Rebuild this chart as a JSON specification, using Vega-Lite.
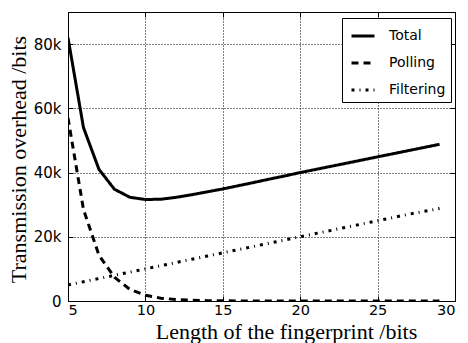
{
  "$schema": "https://vega.github.io/schema/vega-lite/v6.json",
  "width": 387,
  "height": 289,
  "autosize": "none",
  "padding": {"left": 68, "top": 12, "right": 13, "bottom": 42},
  "background": "white",
  "data": {"values": [
    {"n":5,"series":"Total","value":82000},{"n":6,"series":"Total","value":54000},{"n":7,"series":"Total","value":41000},{"n":8,"series":"Total","value":34800},{"n":9,"series":"Total","value":32300},{"n":10,"series":"Total","value":31600},{"n":11,"series":"Total","value":31700},{"n":12,"series":"Total","value":32300},{"n":13,"series":"Total","value":33100},{"n":14,"series":"Total","value":34000},{"n":15,"series":"Total","value":34900},{"n":16,"series":"Total","value":35900},{"n":17,"series":"Total","value":36900},{"n":18,"series":"Total","value":37950},{"n":19,"series":"Total","value":38950},{"n":20,"series":"Total","value":40000},{"n":21,"series":"Total","value":40980},{"n":22,"series":"Total","value":41950},{"n":23,"series":"Total","value":42930},{"n":24,"series":"Total","value":43910},{"n":25,"series":"Total","value":44890},{"n":26,"series":"Total","value":45870},{"n":27,"series":"Total","value":46840},{"n":28,"series":"Total","value":47820},{"n":29,"series":"Total","value":48800},
    {"n":5,"series":"Polling","value":57000},{"n":6,"series":"Polling","value":28500},{"n":7,"series":"Polling","value":14250},{"n":8,"series":"Polling","value":7400},{"n":9,"series":"Polling","value":3600},{"n":10,"series":"Polling","value":1800},{"n":11,"series":"Polling","value":890},{"n":12,"series":"Polling","value":445},{"n":13,"series":"Polling","value":223},{"n":14,"series":"Polling","value":111},{"n":15,"series":"Polling","value":56},{"n":16,"series":"Polling","value":28},{"n":17,"series":"Polling","value":14},{"n":18,"series":"Polling","value":7},{"n":19,"series":"Polling","value":3},{"n":20,"series":"Polling","value":2},{"n":21,"series":"Polling","value":1},{"n":22,"series":"Polling","value":0},{"n":23,"series":"Polling","value":0},{"n":24,"series":"Polling","value":0},{"n":25,"series":"Polling","value":0},{"n":26,"series":"Polling","value":0},{"n":27,"series":"Polling","value":0},{"n":28,"series":"Polling","value":0},{"n":29,"series":"Polling","value":0},
    {"n":5,"series":"Filtering","value":5000},{"n":6,"series":"Filtering","value":6000},{"n":7,"series":"Filtering","value":7000},{"n":8,"series":"Filtering","value":8000},{"n":9,"series":"Filtering","value":9000},{"n":10,"series":"Filtering","value":10000},{"n":11,"series":"Filtering","value":11000},{"n":12,"series":"Filtering","value":12000},{"n":13,"series":"Filtering","value":13000},{"n":14,"series":"Filtering","value":14000},{"n":15,"series":"Filtering","value":15000},{"n":16,"series":"Filtering","value":16000},{"n":17,"series":"Filtering","value":17000},{"n":18,"series":"Filtering","value":18000},{"n":19,"series":"Filtering","value":19000},{"n":20,"series":"Filtering","value":20000},{"n":21,"series":"Filtering","value":21000},{"n":22,"series":"Filtering","value":22000},{"n":23,"series":"Filtering","value":23000},{"n":24,"series":"Filtering","value":24000},{"n":25,"series":"Filtering","value":25000},{"n":26,"series":"Filtering","value":26000},{"n":27,"series":"Filtering","value":27000},{"n":28,"series":"Filtering","value":27900},{"n":29,"series":"Filtering","value":28800}
  ]},
  "layer": [
    {
      "mark": {"type": "line", "color": "black", "strokeWidth": 3, "strokeCap": "butt", "clip": true},
      "encoding": {
        "x": {"field": "n", "type": "quantitative", "scale": {"domain": [5, 30], "nice": false},
          "axis": {"title": "Length of the fingerprint /bits", "values": [5,10,15,20,25,30], "labelPadding": 7, "labelFontSize": 14.5, "titleX": 218, "titleY": 37, "titleBaseline": "alphabetic", "titleAlign": "center", "titleFontSize": 22}},
        "y": {"field": "value", "type": "quantitative", "scale": {"domain": [0, 90000], "nice": false},
          "axis": {"title": "Transmission overhead /bits", "values": [0,20000,40000,60000,80000], "labelExpr": "datum.value == 0 ? '0' : format(datum.value / 1000, 'd') + 'k'", "labelPadding": 12, "titleX": -50, "titleY": 147, "titleBaseline": "middle", "titleAlign": "center", "titleAngle": -90, "titleFontSize": 22}},
        "strokeDash": {"field": "series", "type": "nominal",
          "scale": {"domain": ["Total", "Polling", "Filtering"], "range": [[1, 0], [7, 5], [3, 5, 1, 5]]},
          "legend": {"title": null, "orient": "none", "legendX": 274, "legendY": 6}}
      }
    },
    {
      "mark": {"type": "line", "color": "black", "strokeWidth": 0, "opacity": 0},
      "encoding": {
        "detail": {"field": "series", "type": "nominal"},
        "x": {"field": "n", "type": "quantitative",
          "axis": {"orient": "top", "title": null, "labels": false, "grid": false, "values": [5,10,15,20,25,30]}},
        "y": {"field": "value", "type": "quantitative",
          "axis": {"orient": "right", "title": null, "labels": false, "grid": false, "values": [0,20000,40000,60000,80000]}}
      }
    }
  ],
  "resolve": {"axis": {"x": "independent", "y": "independent"}},
  "config": {
    "view": {"stroke": "black", "strokeWidth": 1},
    "axis": {
      "domainColor": "black", "tickColor": "black", "tickSize": -5,
      "labelFont": "DejaVu Sans", "labelFontSize": 15, "labelColor": "black",
      "titleFont": "Liberation Serif", "titleFontWeight": "normal", "titleColor": "black",
      "grid": true, "gridColor": "black", "gridDash": [1, 2], "gridOpacity": 1, "gridWidth": 1
    },
    "legend": {
      "strokeColor": "black", "fillColor": "white", "padding": 5, "cornerRadius": 0,
      "symbolType": "stroke", "symbolSize": 529, "symbolStrokeWidth": 3, "symbolStrokeColor": "black", "symbolOffset": 3,
      "labelFont": "DejaVu Sans", "labelFontSize": 14, "labelColor": "black", "labelOffset": 13, "rowPadding": 7
    }
  }
}
